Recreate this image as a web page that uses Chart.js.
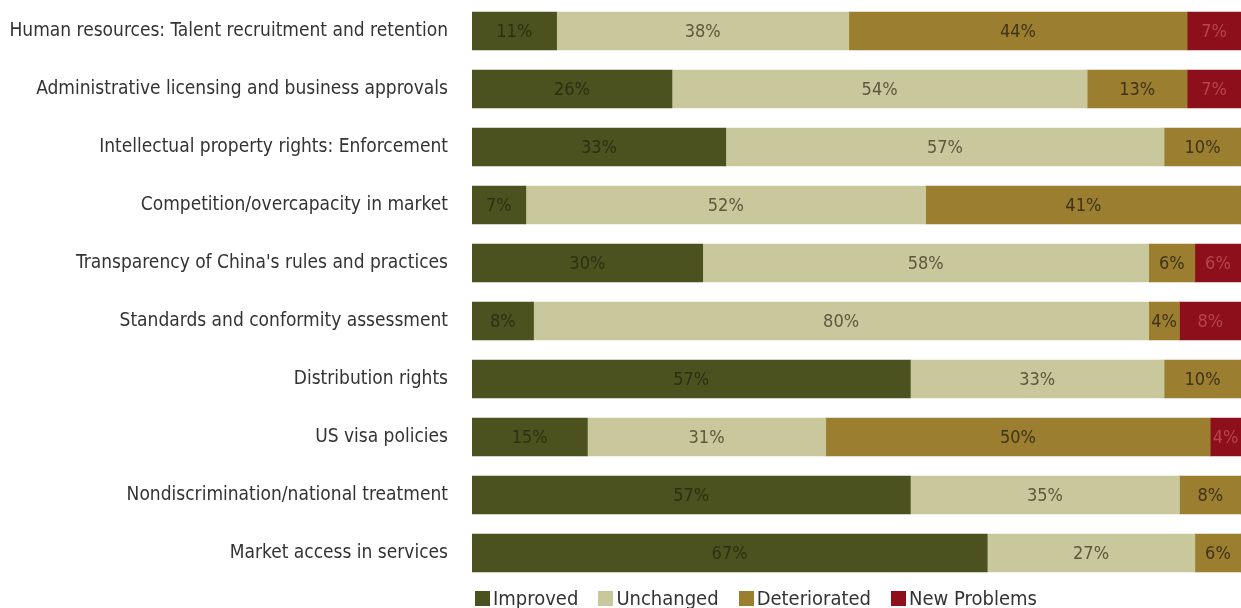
<!DOCTYPE html>
<html>
<head>
<meta charset="utf-8">
<script src="https://cdn.jsdelivr.net/npm/chart.js@4.4.1/dist/chart.umd.min.js"></script>
<style>
  html, body { margin: 0; padding: 0; background: #fff; }
  #wrap { position: relative; width: 1241px; height: 608px; }
  #legend {
    position: absolute; left: 475px; top: 587px;
    font-family: "DejaVu Sans Condensed", "Liberation Sans Narrow", "Roboto", sans-serif;
    font-size: 20px; color: #333; white-space: nowrap; line-height: 22px;
  }
  #legend span.item { margin-right: 20px; }
  #legend i { display: inline-block; width: 15px; height: 15px; margin-right: 3px; vertical-align: -1px; }
</style>
</head>
<body>
<div id="wrap">
  <canvas id="chart" width="1241" height="608"></canvas>
  <div id="legend"></div>
</div>
<script>
const categories = [
  'Human resources: Talent recruitment and retention',
  'Administrative licensing and business approvals',
  'Intellectual property rights: Enforcement',
  'Competition/overcapacity in market',
  "Transparency of China's rules and practices",
  'Standards and conformity assessment',
  'Distribution rights',
  'US visa policies',
  'Nondiscrimination/national treatment',
  'Market access in services',
];

const improved     = [11, 26, 33, 7, 30, 8, 57, 15, 57, 67];
const unchanged    = [38, 54, 57, 52, 58, 80, 33, 31, 35, 27];
const deteriorated = [44, 13, 10, 41, 6, 4, 10, 50, 8, 6];
const newProblems  = [7, 7, 0, 0, 6, 8, 0, 4, 0, 0];

const seriesNames = ['Improved', 'Unchanged', 'Deteriorated', 'New Problems'];
const fills = ['#4c5120', '#c9c79c', '#9b7e2f', '#8d0f1b'];
const labelColors = ['#2c3012', '#5a593c', '#3e3317', '#b5464b'];

const FONT = '"DejaVu Sans Condensed", "Liberation Sans Narrow", "Roboto", sans-serif';

// percentage labels in the middle of each segment
const segmentLabels = {
  id: 'segmentLabels',
  afterDatasetsDraw(chart) {
    const ctx = chart.ctx;
    ctx.save();
    ctx.font = '18px ' + FONT;
    ctx.textAlign = 'center';
    ctx.textBaseline = 'middle';
    chart.data.datasets.forEach((ds, i) => {
      const meta = chart.getDatasetMeta(i);
      meta.data.forEach((bar, j) => {
        const v = ds.data[j];
        if (!v) return;
        const left = Math.min(bar.x, bar.base);
        const right = Math.max(bar.x, bar.base);
        ctx.fillStyle = labelColors[i];
        ctx.fillText(v + '%', (left + right) / 2, bar.y + 1);
      });
    });
    ctx.restore();
  },
};

const chart = new Chart(document.getElementById('chart'), {
  type: 'bar',
  data: {
    labels: categories,
    datasets: seriesNames.map((name, i) => ({
      label: name,
      data: [improved, unchanged, deteriorated, newProblems][i],
      backgroundColor: fills[i],
      borderWidth: 0,
      barThickness: 38,
    })),
  },
  options: {
    indexAxis: 'y',
    responsive: false,
    animation: false,
    layout: { padding: { top: 2, bottom: 26, right: 0, left: 0 } },
    plugins: {
      legend: { display: false },
      tooltip: { enabled: false },
    },
    scales: {
      x: {
        stacked: true,
        min: 0,
        max: 100,
        display: false,
      },
      y: {
        stacked: true,
        grid: { display: false, drawTicks: false },
        border: { display: false },
        ticks: {
          padding: 24,
          color: '#333',
          font: { family: FONT, size: 19 },
        },
        // fixed label column, and no extra vertical room for the labels
        afterFit: (scale) => {
          scale.width = 472;
          scale.paddingTop = 0;
          scale.paddingBottom = 0;
        },
      },
    },
  },
  plugins: [segmentLabels],
});

// legend
const legend = document.getElementById('legend');
seriesNames.forEach((name, i) => {
  const s = document.createElement('span');
  s.className = 'item';
  s.innerHTML = '<i style="background:' + fills[i] + '"></i>' + name;
  legend.appendChild(s);
});
</script>
</body>
</html>
